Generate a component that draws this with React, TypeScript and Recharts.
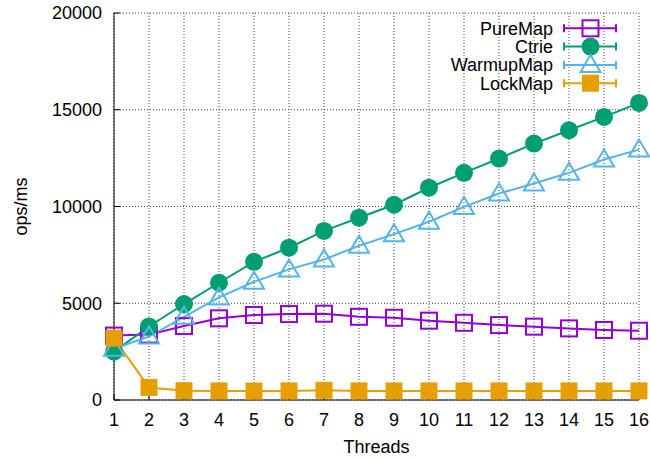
import React from 'react';
import { LineChart, Line, XAxis, YAxis, CartesianGrid, Legend } from 'recharts';

const threads = [1, 2, 3, 4, 5, 6, 7, 8, 9, 10, 11, 12, 13, 14, 15, 16];
const pureMap = [3330, 3380, 3820, 4220, 4390, 4440, 4460, 4300, 4250, 4100, 3990, 3870, 3790, 3700, 3620, 3580];
const ctrie = [2500, 3800, 4960, 6060, 7140, 7870, 8740, 9420, 10090, 10970, 11740, 12480, 13250, 13940, 14630, 15350];
const warmupMap = [2650, 3280, 4300, 5300, 6110, 6750, 7260, 7970, 8570, 9210, 9980, 10670, 11190, 11740, 12430, 12940];
const lockMap = [3190, 650, 480, 470, 460, 470, 500, 470, 470, 470, 470, 470, 470, 470, 470, 470];
const yTicks = [0, 5000, 10000, 15000, 20000];

const FONT = '"Liberation Sans", Arial, sans-serif';

const data = threads.map((t, i) => ({
  threads: t,
  PureMap: pureMap[i],
  Ctrie: ctrie[i],
  WarmupMap: warmupMap[i],
  LockMap: lockMap[i],
}));

const series = [
  { key: 'PureMap', color: '#9400d3', shape: 'openSquare' },
  { key: 'Ctrie', color: '#009e73', shape: 'circle' },
  { key: 'WarmupMap', color: '#56b4e9', shape: 'openTriangle' },
  { key: 'LockMap', color: '#e69f00', shape: 'square' },
];

const Marker = ({ cx, cy, shape, color }: any) => {
  if (cx == null || cy == null) return null;
  if (shape === 'openSquare')
    return <rect x={cx - 8} y={cy - 8} width={16} height={16} fill="none" stroke={color} strokeWidth={2} />;
  if (shape === 'square')
    return <rect x={cx - 8.5} y={cy - 8.5} width={17} height={17} fill={color} />;
  if (shape === 'circle') return <circle cx={cx} cy={cy} r={9} fill={color} />;
  return (
    <polygon
      points={`${cx},${cy - 10} ${cx - 10},${cy + 7} ${cx + 10},${cy + 7}`}
      fill="none"
      stroke={color}
      strokeWidth={2}
    />
  );
};

const renderLegend = () => (
  <svg width={650} height={100} style={{ display: 'block' }}>
    {series.map((s, i) => {
      const y = 28.3 + i * 18.3;
      return (
        <g key={s.key}>
          <text x={553} y={y + 6.5} textAnchor="end" fontSize={18} fontFamily={FONT} fill="#000">
            {s.key}
          </text>
          <line x1={564} x2={616} y1={y} y2={y} stroke={s.color} strokeWidth={2} />
          <line x1={564} x2={564} y1={y - 4} y2={y + 4} stroke={s.color} strokeWidth={2} />
          <line x1={616} x2={616} y1={y - 4} y2={y + 4} stroke={s.color} strokeWidth={2} />
          <Marker cx={590.5} cy={y} shape={s.shape} color={s.color} />
        </g>
      );
    })}
  </svg>
);

const NoTick = () => <g />;

const YLabel = ({ viewBox }: any) => {
  const cy = viewBox.y + viewBox.height / 2;
  const cx = 27;
  return (
    <text x={cx} y={cy} transform={`rotate(-90, ${cx}, ${cy})`} textAnchor="middle" fontSize={18} fontFamily={FONT} fill="#000">
      ops/ms
    </text>
  );
};

export default function App() {
  return (
    <div style={{ position: 'absolute', left: 0, top: 0, width: 650, height: 459, background: '#fff' }}>
      <LineChart
        width={650}
        height={459}
        data={data}
        margin={{ top: 13, right: 11, bottom: 0, left: 0 }}
        style={{ fontFamily: FONT }}
      >
        <CartesianGrid stroke="#444" strokeDasharray="1 2" strokeWidth={1} />
        <XAxis
          dataKey="threads"
          type="number"
          domain={[1, 16]}
          ticks={threads}
          interval={0}
          height={59}
          stroke="#000"
          tickSize={-6}
          tickMargin={19}
          tick={{ fill: '#000', fontSize: 18 }}
          label={{ value: 'Threads', position: 'insideBottom', offset: 6, fill: '#000', fontSize: 18 }}
        />
        <XAxis
          xAxisId="top"
          orientation="top"
          type="number"
          domain={[1, 16]}
          ticks={threads}
          interval={0}
          height={0}
          stroke="#000"
          tickSize={-6}
          tick={NoTick}
        />
        <YAxis
          type="number"
          domain={[0, 20000]}
          ticks={yTicks}
          interval={0}
          width={114}
          stroke="#000"
          tickSize={-6}
          tickMargin={18}
          tick={{ fill: '#000', fontSize: 18 }}
          label={<YLabel />}
        />
        <YAxis
          yAxisId="right"
          orientation="right"
          type="number"
          domain={[0, 20000]}
          ticks={yTicks}
          interval={0}
          width={0}
          stroke="#000"
          tickSize={-6}
          tick={NoTick}
        />
        <Legend layout="vertical" align="center" verticalAlign="middle" wrapperStyle={{ top: 0, left: 0, width: 650, height: 100 }} content={renderLegend} />
        {series.map((s) => (
          <Line
            key={s.key}
            dataKey={s.key}
            stroke={s.color}
            strokeWidth={2}
            isAnimationActive={false}
            dot={(p: any) => <Marker key={`${s.key}-${p.index}`} cx={p.cx} cy={p.cy} shape={s.shape} color={s.color} />}
            activeDot={false}
          />
        ))}
      </LineChart>
    </div>
  );
}
